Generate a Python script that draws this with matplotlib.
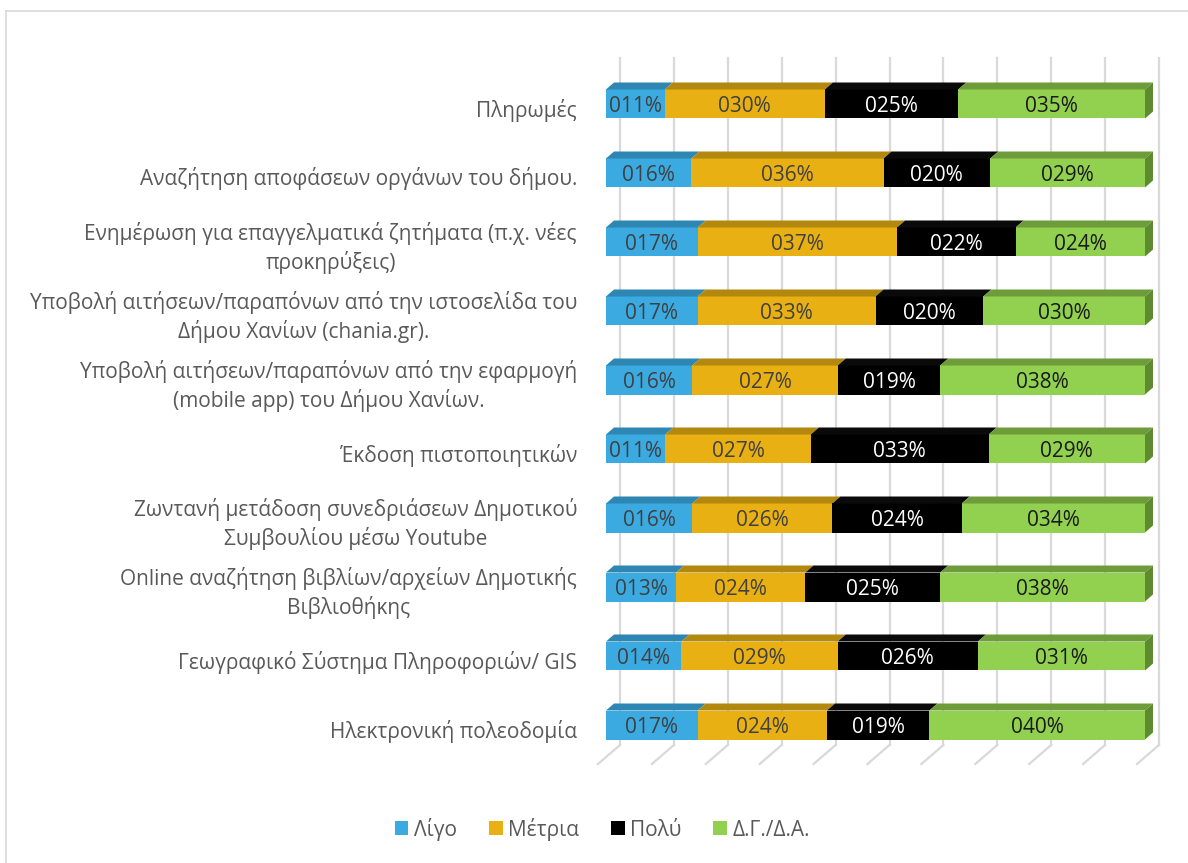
import matplotlib
matplotlib.use("Agg")
import matplotlib.pyplot as plt
from matplotlib.patches import Patch, Polygon
from matplotlib.lines import Line2D
import numpy as np

plt.rcParams['font.family'] = ['Open Sans', 'DejaVu Sans']

categories = [
    "Πληρωμές",
    "Αναζήτηση αποφάσεων οργάνων του δήμου.",
    "Ενημέρωση για επαγγελματικά ζητήματα (π.χ. νέες\nπροκηρύξεις)",
    "Υποβολή αιτήσεων/παραπόνων από την ιστοσελίδα του\nΔήμου Χανίων (chania.gr).",
    "Υποβολή αιτήσεων/παραπόνων από την εφαρμογή\n(mobile app) του Δήμου Χανίων.",
    "Έκδοση πιστοποιητικών",
    "Ζωντανή μετάδοση συνεδριάσεων Δημοτικού\nΣυμβουλίου μέσω Youtube",
    "Online αναζήτηση βιβλίων/αρχείων Δημοτικής\nΒιβλιοθήκης",
    "Γεωγραφικό Σύστημα Πληροφοριών/ GIS",
    "Ηλεκτρονική πολεοδομία",
]
series_names = ["Λίγο", "Μέτρια", "Πολύ", "Δ.Γ./Δ.Α."]
ligo   = [11, 16, 17, 17, 16, 11, 16, 13, 14, 17]
metria = [30, 36, 37, 33, 27, 27, 26, 24, 29, 24]
poly   = [25, 20, 22, 20, 19, 33, 24, 25, 26, 19]
dgda   = [35, 29, 24, 30, 38, 29, 34, 38, 31, 40]
gridticks = [0, 10, 20, 30, 40, 50, 60, 70, 80, 90, 100]

front_cols = ["#3AAAE1", "#E8B012", "#000000", "#92D050"]
top_cols   = ["#2E86B2", "#B3880E", "#0A0A0A", "#6F9C3A"]
side_col   = "#5F8B30"
text_cols  = ["#404040", "#404040", "#FFFFFF", "#1A1A1A"]

FS = 15
W, H = 1188, 863
fig = plt.figure(figsize=(W/100, H/100), dpi=100)

# axes: x 0..1 -> px 606..1145 ; rows: y=-1 -> px 35, y=10 -> px 794
x0px, x1px = 606, 1145
ytop_px, ybot_px = 104 - 69, 104 + 69*10
ax = fig.add_axes([x0px/W, 1 - ybot_px/H, (x1px-x0px)/W, (ybot_px-ytop_px)/H])
ax.set_xlim(0, 1)
ax.set_ylim(10, -1)
ax.axis('off')

pxx = 1/539.0   # data units per px in x
pxy = 1/69.0    # data units per px in y

# back-wall gridlines and floor slants
gcol = "#D9D9D9"
for t in gridticks:
    v = t/100.0
    bx = v + 14*pxx
    ax.add_line(Line2D([bx, bx], [(58-104)*pxy, (745-104)*pxy], color=gcol, lw=1.6, zorder=1, clip_on=False))
    ax.add_line(Line2D([v - 8*pxx, bx], [(764-104)*pxy, (745-104)*pxy], color=gcol, lw=1.6, zorder=1, clip_on=False))

series = [ligo, metria, poly, dgda]
data = np.array(series, dtype=float)
data = data / data.sum(axis=0, keepdims=True)   # 100% stacked
h = 29*pxy
dx, dy = 8*pxx, -7*pxy
for i in range(len(categories)):
    left = 0.0
    for s in range(4):
        w = data[s, i]
        ax.barh(i, w, left=left, height=h, color=front_cols[s], edgecolor='none', zorder=3)
        yt = i - h/2
        ax.add_patch(Polygon([[left, yt], [left+w, yt], [left+w+dx, yt+dy], [left+dx, yt+dy]],
                             closed=True, facecolor=top_cols[s], edgecolor='none', zorder=3, clip_on=False))
        ax.text(left + w/2, i + 0.03, f"{series[s][i]:03d}%", ha='center', va='center',
                fontsize=FS, color=text_cols[s], zorder=5)
        left += w
    yt, yb = i - h/2, i + h/2
    ax.add_patch(Polygon([[left, yt], [left+dx, yt+dy], [left+dx, yb+dy], [left, yb]],
                         closed=True, facecolor=side_col, edgecolor='none', zorder=3, clip_on=False))
    ax.text(-29*pxx, i + 6*pxy, categories[i], ha='right', va='center', multialignment='center',
            fontsize=FS, color='#595959', linespacing=1.3)

# legend
handles = [Patch(facecolor=c, edgecolor='none') for c in front_cols]
fig.legend(handles, series_names, loc='center', bbox_to_anchor=(0.507, 1 - 829/H), ncol=4,
           frameon=False, fontsize=FS, handlelength=0.65, handleheight=0.65, handletextpad=0.25,
           columnspacing=1.55, labelcolor='#595959')

# chart border
fig.add_artist(Line2D([5.5/W, 1], [1 - 11.5/H, 1 - 11.5/H], color="#D9D9D9", lw=1.2))
fig.add_artist(Line2D([5.5/W, 5.5/W], [0, 1 - 11.5/H], color="#D9D9D9", lw=1.2))

fig.savefig("out.png", dpi=100)
